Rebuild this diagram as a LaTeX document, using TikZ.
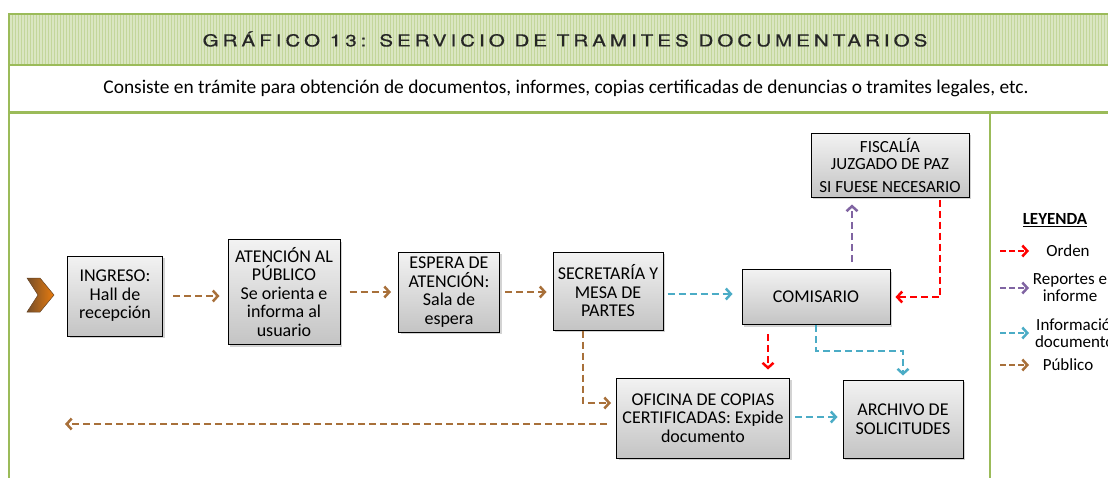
\documentclass[tikz,border=0pt]{standalone}
\usepackage{fontspec}
\setmainfont{Carlito}
\newfontfamily\titlefont[LetterSpace=24,FakeStretch=1.25,FakeBold=0.6]{TeX Gyre Heros}
\usetikzlibrary{arrows.meta}
\usetikzlibrary{shadows}
\usetikzlibrary{patterns}
\definecolor{frgreen}{RGB}{155,187,89}
\definecolor{bandgreen}{RGB}{218,230,194}
\definecolor{pubbrown}{RGB}{168,112,58}
\definecolor{ordred}{RGB}{255,0,0}
\definecolor{reppurple}{RGB}{128,100,162}
\definecolor{docblue}{RGB}{75,172,198}
\definecolor{lgrey}{RGB}{196,196,196}

\begin{document}
\begin{tikzpicture}[x=1pt,y=-1pt,>={Straight Barb[length=5pt,width=11pt]},line width=2.5pt,
    font=\fontsize{18}{18.5}\selectfont]
      \tikzstyle{box}=[draw=black,line width=1pt,top color=white!95!black,bottom color=lgrey,
        drop shadow={shadow xshift=2pt,shadow yshift=-2pt,opacity=0.35},align=center,inner sep=2pt]
      \tikzstyle{flow}=[->,dash pattern=on 7pt off 4pt,shorten >=2pt,shorten <=2pt]

      \useasboundingbox (0,0) rectangle (1108,477);
      \clip (0,0) rectangle (1108,477);

      % frame
      \fill[bandgreen] (9,14) rectangle (1110,65);
      \fill[pattern=vertical lines,pattern color=frgreen!60] (9,14) rectangle (1110,65);
      \draw[frgreen,line width=2.5pt] (1110,14) -- (9,14) -- (9,480);
      \draw[frgreen,line width=2pt] (9,65) -- (1110,65);
      \draw[frgreen,line width=3pt] (9,112) -- (1110,112);
      \draw[frgreen,line width=2.5pt] (990,112) -- (990,480);

      \node[text=black!85] (titulo) at (565,39) {\titlefont\fontsize{16.5}{18}\selectfont GRÁFICO 13: SERVICIO DE TRAMITES DOCUMENTARIOS};
      \node (desc) at (566,88) {\fontsize{19.4}{21}\selectfont Consiste en trámite para obtención de documentos, informes, copias certificadas de denuncias o tramites legales, etc.};

      % entrada
      \shade[left color=pubbrown!70!black,right color=orange!75!pubbrown,draw=pubbrown!60!black,line width=0.5pt]
        (27,278) -- (40,278) -- (54,295) -- (40,312) -- (27,312) -- (38,295) -- cycle;

      \node[box,minimum width=95pt,minimum height=80pt]  (ingreso)    at (115,296) {INGRESO:\\Hall de\\recepción};
      \node[box,minimum width=112pt,minimum height=105pt] (atencion)  at (284,292) {ATENCIÓN AL\\PÚBLICO\\Se orienta e\\informa al\\usuario};
      \node[box,minimum width=101pt,minimum height=80pt]  (espera)     at (449,292) {ESPERA DE\\ATENCIÓN:\\Sala de\\espera};
      \node[box,minimum width=110pt,minimum height=78pt]  (secretaria) at (608,291) {SECRETARÍA Y\\MESA DE\\PARTES};
      \node[box,minimum width=148pt,minimum height=55pt]  (comisario)  at (816,297) {COMISARIO};
      \node[box,minimum width=158pt,minimum height=64pt,font=\fontsize{17}{17.5}\selectfont] (fiscalia) at (890,165) {FISCALÍA\\JUZGADO DE PAZ\\[5pt]SI FUESE NECESARIO};
      \node[box,minimum width=173pt,minimum height=80pt]  (oficina)    at (703,418) {OFICINA DE COPIAS\\CERTIFICADAS: Expide\\documento};
      \node[box,minimum width=120pt,minimum height=78pt]  (archivo)    at (903,419) {ARCHIVO DE\\SOLICITUDES};
      \coordinate (salida) at (63,424);

      \draw[flow,pubbrown] ([xshift=8pt]ingreso.east) -- ([xshift=-6pt]ingreso.east -| atencion.west);
      \draw[flow,pubbrown] ([xshift=7pt]atencion.east) -- ([xshift=-5pt]atencion.east -| espera.west);
      \draw[flow,pubbrown] ([xshift=3pt]espera.east) -- ([xshift=-4pt]espera.east -| secretaria.west);
      \draw[flow,docblue] ([xshift=2pt,yshift=-3pt]secretaria.east) -- ([xshift=-7pt,yshift=-3pt]secretaria.east -| comisario.west);
      \draw[flow,reppurple] ([xshift=36pt,yshift=5pt]comisario.north) -- ([xshift=36pt,yshift=-5pt]comisario.north |- fiscalia.south);
      \draw[flow,ordred] ([xshift=50pt]fiscalia.south) |- ([xshift=3pt]comisario.east);
      \draw[flow,ordred] ([xshift=-48pt,yshift=-7pt]comisario.south) -- ([xshift=-48pt,yshift=6pt]comisario.south |- oficina.north);
      \draw[flow,docblue,shorten <=0pt] (comisario.south) -- ++(0,26) -| ([yshift=2pt]archivo.north);
      \draw[flow,pubbrown,shorten <=0pt] ([xshift=-25pt]secretaria.south) |- ([xshift=-3pt,yshift=15pt]oficina.west);
      \draw[flow,pubbrown] ([xshift=-7pt,yshift=-6pt]oficina.west) -- (salida);
      \draw[flow,docblue] ([xshift=3pt,yshift=1pt]oficina.east) -- ([xshift=-3pt,yshift=1pt]oficina.east -| archivo.west);

      % leyenda
      \node (leyenda) at (1055,220) {\fontsize{17}{18}\selectfont\bfseries\underline{LEYENDA}};
      \foreach \col/\txt/\xx/\yy in {ordred/{Orden}/1068/251,reppurple/{Reportes e\\informe}/1070/288,
                                     docblue/{Información\\documentos}/1078/333,pubbrown/{Público}/1068/365}{
        \node[align=center,font=\fontsize{17}{17}\selectfont] (ley-\yy) at (\xx,\yy) {\txt};
        \draw[\col,->,dash pattern=on 6pt off 3pt,line width=2.5pt] (1000,\yy) -- (1029,\yy);
      }
\end{tikzpicture}
\end{document}
